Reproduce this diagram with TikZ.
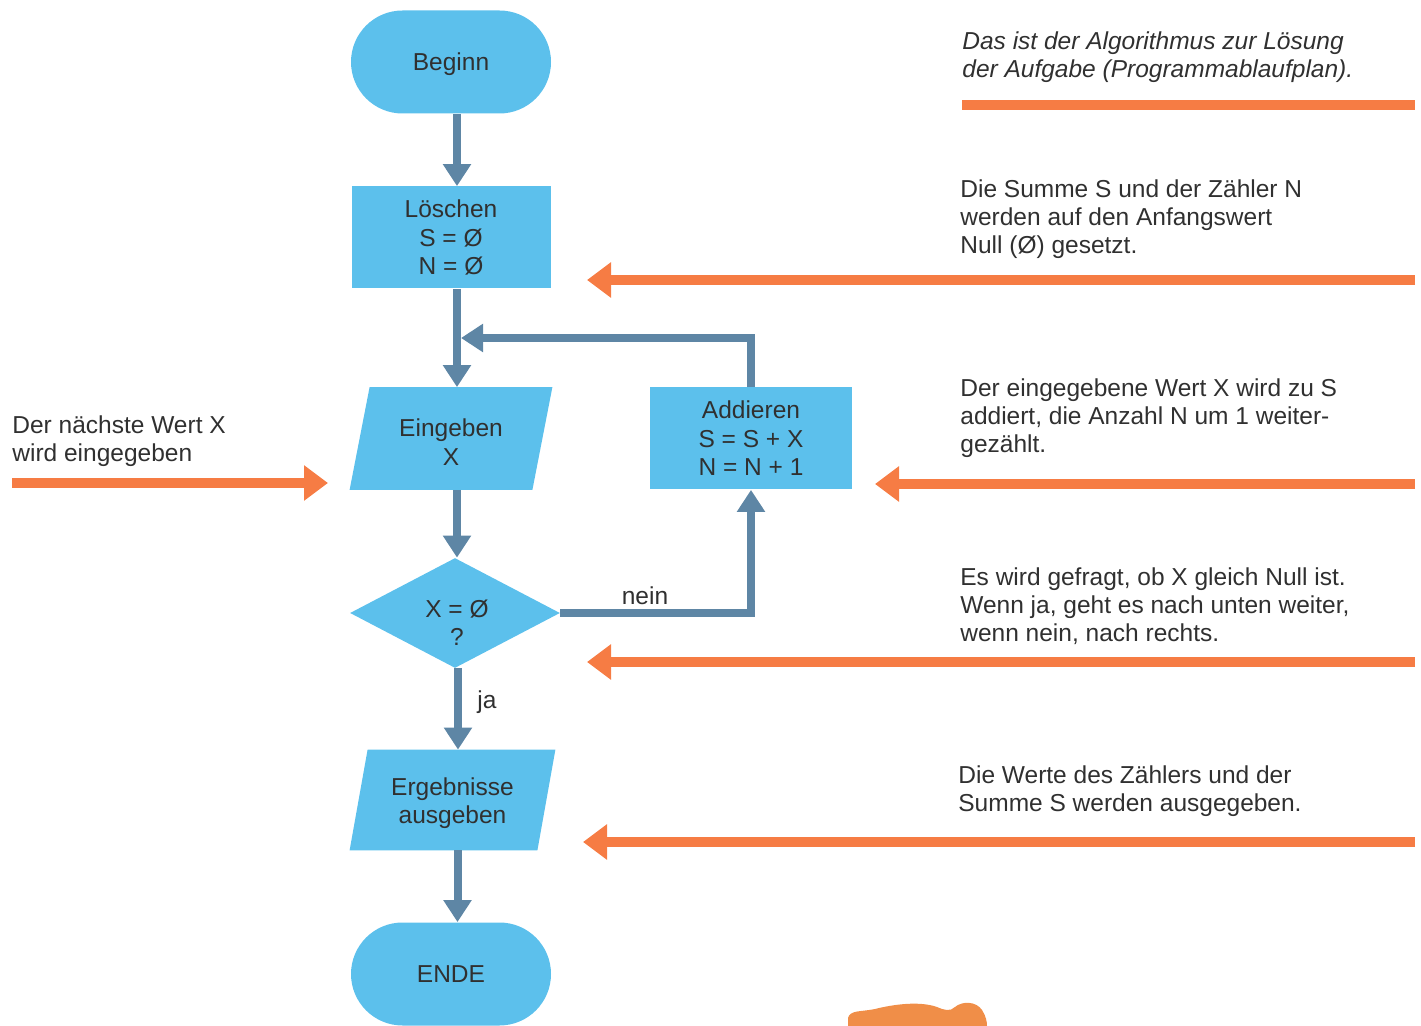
\documentclass[tikz,border=0pt]{standalone}
\usepackage{fontspec}
\setmainfont{Liberation Sans}
\usetikzlibrary{shapes.misc,shapes.geometric,arrows.meta,backgrounds}
\definecolor{flowblue}{RGB}{92,192,236}
\definecolor{linkgray}{RGB}{94,134,165}
\definecolor{noteorange}{RGB}{246,124,68}
\definecolor{bloborange}{RGB}{240,142,72}
\definecolor{ink}{RGB}{48,48,48}
\begin{document}
\begin{tikzpicture}[x=0.5pt,y=-0.5pt,
  every node/.style={text=ink, font=\fontsize{12.25}{14.2}\selectfont, align=center, inner sep=0pt},
  terminal/.style={rounded rectangle, fill=flowblue, minimum width=100pt, minimum height=51.5pt, text depth=0pt},
  process/.style={rectangle, fill=flowblue, minimum width=#1, minimum height=51pt},
  ioslot/.style={rectangle, minimum width=101pt, minimum height=51pt},
  decision/.style={diamond, fill=flowblue, minimum width=105pt, minimum height=55pt},
  link/.style={draw=linkgray, line width=4pt, -{Triangle[width=13.5pt,length=11pt]}},
  pointer/.style={draw=noteorange, line width=5pt, -{Triangle[width=17pt,length=12pt]}},
  bar/.style={draw=noteorange, line width=5pt},
  note/.style={align=left, anchor=north west},
  tag/.style={}]
\useasboundingbox (0,0) rectangle (1421,1026);

% --- flowchart column ---
\node[terminal] (begin) at (451,62) {Beginn};
\node[process=99.5pt] (clear) at (451,237.5) {Löschen\\S = Ø\\N = Ø};
\node[ioslot] (input) at (451,438.5) {};
\node (inputtext) at (451,442) {Eingeben\\X};
\node[process=101pt] (add) at (751,438.5) {Addieren\\S = S + X\\N = N + 1};
\node[decision] (test) at (455,613) {};
\node (testtext) at (457,623) {X = Ø\\?};
\node[ioslot, minimum height=50pt, minimum width=102.5pt] (output) at (452.5,800) {};
\node (outputtext) at (452.5,803) {Ergebnisse\\ausgeben};
\node[terminal] (finish) at (451,974) {ENDE};

% slanted input/output boxes
\begin{scope}[on background layer]
  \fill[flowblue] ([xshift=10pt]input.north west) -- (input.north east)
    -- ([xshift=-10pt]input.south east) -- (input.south west) -- cycle;
  \fill[flowblue] ([xshift=9pt]output.north west) -- (output.north east)
    -- ([xshift=-9pt]output.south east) -- (output.south west) -- cycle;
\end{scope}

% --- connectors ---
\coordinate (merge) at (461,338);
\draw[link] ([xshift=3pt]begin.south) -- ([xshift=3pt]clear.north);
\draw[link] ([xshift=3pt]clear.south) -- ([xshift=3pt]input.north);
\draw[link] (add.north) |- (merge);
\draw[link] ([xshift=3pt]input.south) -- ([xshift=3pt]input.south |- test.north);
\draw[link] (test.east) -| (add.south);
\draw[link] ([xshift=1.5pt]test.south) -- ([xshift=1.5pt]test.south |- output.north);
\draw[link] ([xshift=2.5pt]output.south) -- ([xshift=2.5pt]output.south |- finish.north);
\node[tag] (nein) at (645,596) {nein};
\node[tag] (ja) at (487,702) {ja};

% --- explanations ---
\node[note] (title) at (962,31) {\itshape Das ist der Algorithmus zur Lösung\\\itshape der Aufgabe (Programmablaufplan).};
\node[note] (n1) at (960,179) {Die Summe S und der Zähler N\\werden auf den Anfangswert\\Null (Ø) gesetzt.};
\node[note] (n2) at (960,378) {Der eingegebene Wert X wird zu S\\addiert, die Anzahl N um 1 weiter-\\gezählt.};
\node[note] (n3) at (960,567) {Es wird gefragt, ob X gleich Null ist.\\Wenn ja, geht es nach unten weiter,\\wenn nein, nach rechts.};
\node[note] (n4) at (958,765) {Die Werte des Zählers und der\\Summe S werden ausgegeben.};
\node[note] (n5) at (12,415) {Der nächste Wert X\\wird eingegeben};

% --- orange pointers ---
\coordinate (b0a) at (962,105);  \coordinate (b0b) at (1415,105);
\coordinate (b1a) at (1415,280); \coordinate (b1b) at (587,280);
\coordinate (b2a) at (1415,484); \coordinate (b2b) at (875,484);
\coordinate (b3a) at (1415,662); \coordinate (b3b) at (587,662);
\coordinate (b4a) at (1415,842); \coordinate (b4b) at (583,842);
\coordinate (b5a) at (12,483);   \coordinate (b5b) at (328,483);
\draw[bar] (b0a) -- (b0b);
\draw[pointer] (b1a) -- (b1b);
\draw[pointer] (b2a) -- (b2b);
\draw[pointer] (b3a) -- (b3b);
\draw[pointer] (b4a) -- (b4b);
\draw[pointer] (b5a) -- (b5b);

% orange shape at the bottom edge
\fill[bloborange] (848,1026) -- (848,1018)
  .. controls (850,1010) and (860,1012) .. (875,1009)
  .. controls (895,1004) and (920,1001) .. (937,1007)
  .. controls (944,1010) and (950,1012) .. (955,1007)
  .. controls (962,1001) and (976,1001) .. (982,1010)
  .. controls (986,1016) and (987,1022) .. (987,1026) -- cycle;
\end{tikzpicture}
\end{document}
